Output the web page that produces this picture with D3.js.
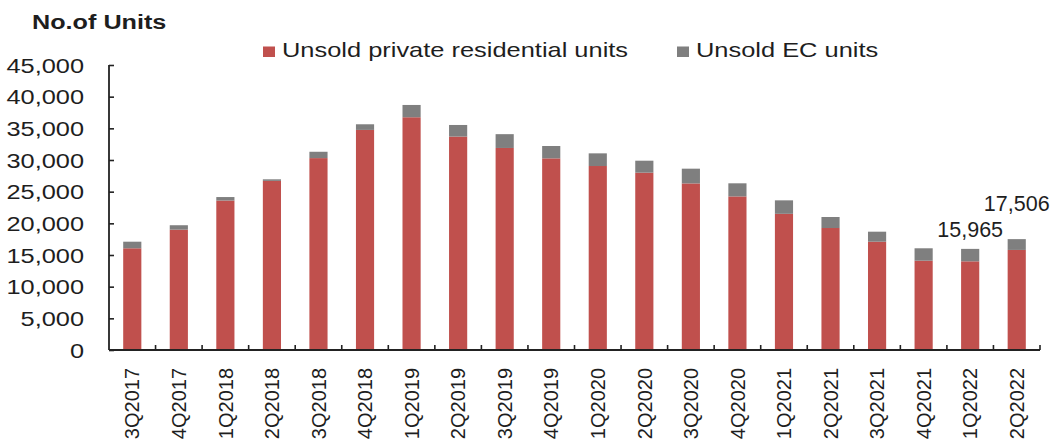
<!DOCTYPE html>
<html>
<head>
<meta charset="utf-8">
<script src="https://cdn.jsdelivr.net/npm/d3@7/dist/d3.min.js"></script>
<style>
  html, body { margin: 0; padding: 0; background: #fff; }
  svg { display: block; }
  text { font-family: "Liberation Sans", Arial, sans-serif; fill: #1e1e1e; }
</style>
</head>
<body>
<svg id="chart" width="1050" height="441"></svg>
<script>
// Quarterly unsold housing stock
const quarters = ["3Q2017", "4Q2017", "1Q2018", "2Q2018", "3Q2018", "4Q2018",
  "1Q2019", "2Q2019", "3Q2019", "4Q2019", "1Q2020", "2Q2020", "3Q2020", "4Q2020",
  "1Q2021", "2Q2021", "3Q2021", "4Q2021", "1Q2022", "2Q2022"];
const unsoldPrivate = [16060, 19000, 23600, 26700, 30300, 34750, 36750, 33700, 31900, 30260,
  29050, 28000, 26300, 24250, 21500, 19260, 17100, 14100, 14000, 15800];
const unsoldEC = [1040, 700, 550, 250, 1000, 890, 1940, 1830, 2180, 1950,
  2000, 1890, 2330, 2070, 2130, 1740, 1580, 1960, 1965, 1706];
const yTicks = [0, 5000, 10000, 15000, 20000, 25000, 30000, 35000, 40000, 45000];
const seriesNames = ["Unsold private residential units", "Unsold EC units"];
const labelledQuarters = ["1Q2022", "2Q2022"];

const colors = ["#c0504d", "#7f7f7f"];

const svg = d3.select("#chart");
const plotLeft = 109, plotRight = 1040, plotTop = 65, plotBottom = 350;

const x = d3.scaleBand().domain(quarters).range([plotLeft, plotRight]).padding(0);
const y = d3.scaleLinear().domain([0, 45000]).range([plotBottom, plotTop]);
const barW = x.bandwidth() * 0.39;

// Widen glyphs horizontally to the given factor
function stretch(sel, f) {
  sel.each(function () {
    const len = this.getComputedTextLength();
    d3.select(this).attr("textLength", len * f).attr("lengthAdjust", "spacingAndGlyphs");
  });
}

// Stacked data
const rows = quarters.map((q, i) => ({ q, priv: unsoldPrivate[i], ec: unsoldEC[i] }));

const bars = svg.append("g");
bars.selectAll("rect.priv").data(rows).join("rect")
  .attr("class", "priv")
  .attr("x", d => x(d.q) + (x.bandwidth() - barW) / 2)
  .attr("width", barW)
  .attr("y", d => y(d.priv))
  .attr("height", d => y(0) - y(d.priv))
  .attr("fill", colors[0]);
bars.selectAll("rect.ec").data(rows).join("rect")
  .attr("class", "ec")
  .attr("x", d => x(d.q) + (x.bandwidth() - barW) / 2)
  .attr("width", barW)
  .attr("y", d => y(d.priv + d.ec))
  .attr("height", d => y(d.priv) - y(d.priv + d.ec))
  .attr("fill", colors[1]);

// Y axis
const yAxis = svg.append("g")
  .attr("transform", `translate(${plotLeft},0)`)
  .call(d3.axisLeft(y).tickValues(yTicks).tickSize(-5).tickPadding(25)
    .tickFormat(d3.format(",")));
yAxis.select(".domain").attr("stroke", "#222").attr("stroke-width", 1.8).attr("d", `M0,${plotTop}V${plotBottom}`);
yAxis.selectAll(".tick line").attr("stroke", "#222").attr("stroke-width", 1.6);
yAxis.selectAll(".tick text")
  .attr("font-size", 19.5).attr("font-family", "Liberation Sans, Arial, sans-serif")
  .attr("fill", "#262626").attr("dy", "0.36em");
yAxis.selectAll(".tick text").call(stretch, 1.3);

// X axis: line along the base with inward ticks at category boundaries
const xAxis = svg.append("g");
xAxis.append("line")
  .attr("x1", plotLeft).attr("x2", plotRight).attr("y1", plotBottom).attr("y2", plotBottom)
  .attr("stroke", "#222").attr("stroke-width", 1.8);
xAxis.selectAll("line.tk").data(quarters.slice(1).concat(["__end"])).join("line")
  .attr("class", "tk")
  .attr("x1", d => d === "__end" ? plotRight : x(d))
  .attr("x2", d => d === "__end" ? plotRight : x(d))
  .attr("y1", plotBottom).attr("y2", plotBottom - 5)
  .attr("stroke", "#222").attr("stroke-width", 1.6);
xAxis.selectAll("text").data(quarters).join("text")
  .attr("transform", d => `translate(${x(d) + x.bandwidth() / 2},368) rotate(-90)`)
  .attr("text-anchor", "end")
  .attr("dy", "0.36em")
  .attr("font-size", 20)
  .text(d => d);

// Totals written over the latest quarters
const lift = { "1Q2022": 12, "2Q2022": 28.5 };
svg.append("g").selectAll("text")
  .data(rows.filter(d => labelledQuarters.includes(d.q))).join("text")
  .attr("x", d => x(d.q) + x.bandwidth() / 2)
  .attr("y", d => y(d.priv + d.ec) - lift[d.q])
  .attr("text-anchor", "middle")
  .attr("font-size", 21.5)
  .text(d => d3.format(",")(d.priv + d.ec));

// Axis title
svg.append("text")
  .attr("x", 32).attr("y", 29)
  .attr("font-size", 20).attr("font-weight", "bold")
  .text("No.of Units")
  .call(stretch, 1.26);

// Legend
const legendX = [263, 677];
const legend = svg.append("g");
seriesNames.forEach((name, i) => {
  legend.append("rect")
    .attr("x", legendX[i]).attr("y", 46.5).attr("width", 12).attr("height", 10.5)
    .attr("fill", colors[i]);
  legend.append("text")
    .attr("x", legendX[i] + 19).attr("y", 57)
    .attr("font-size", 21)
    .attr("fill", "#2a2a2a")
    .text(name)
    .call(stretch, 1.21);
});
</script>
</body>
</html>
